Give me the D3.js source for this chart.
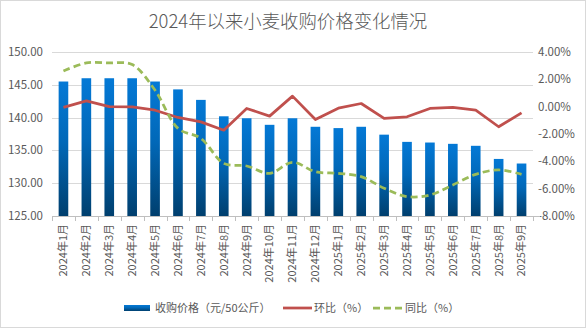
<!DOCTYPE html>
<html lang="zh">
<head>
<meta charset="utf-8">
<script src="https://d3js.org/d3.v7.min.js"></script>
<style>
  body { margin: 0; background: #fff; }
  text { font-family: "Noto Sans CJK SC", "Noto Sans", sans-serif; fill: #595959; }
</style>
</head>
<body>
<script>
    // categories and the three series
    var months = ["2024年1月", "2024年2月", "2024年3月", "2024年4月", "2024年5月", "2024年6月",
                  "2024年7月", "2024年8月", "2024年9月", "2024年10月", "2024年11月", "2024年12月",
                  "2025年1月", "2025年2月", "2025年3月", "2025年4月", "2025年5月", "2025年6月",
                  "2025年7月", "2025年8月", "2025年9月"];
    var price = [145.5, 146.0, 146.0, 146.0, 145.5, 144.3, 142.7, 140.2, 139.9, 138.9, 139.9,
                 138.6, 138.4, 138.6, 137.4, 136.3, 136.2, 136.0, 135.7, 133.7, 133.0];
    var mom = [-0.05, 0.42, 0.0, -0.02, -0.26, -0.79, -1.11, -1.72, -0.13, -0.69, 0.77,
               -0.94, -0.11, 0.23, -0.86, -0.74, -0.13, -0.06, -0.26, -1.47, -0.45];
    var yoy = [2.61, 3.2, 3.2, 3.08, 1.2, -1.59, -2.32, -4.15, -4.34, -4.88, -4.07,
               -4.76, -4.88, -5.12, -5.97, -6.58, -6.46, -5.73, -4.95, -4.63, -4.95];
    var leftTicks = [125, 130, 135, 140, 145, 150];
    var rightTicks = [-8, -6, -4, -2, 0, 2, 4];

    var width = 586, height = 328;
    // plot box (window.top is reserved, so these get a prefix)
    var plotL = 52, plotR = 533, plotT = 52, plotB = 216;

    var svg = d3.select("body").append("svg")
        .attr("width", width)
        .attr("height", height);

    // chart border
    svg.append("rect")
        .attr("x", 0.5).attr("y", 0.5)
        .attr("width", width - 1).attr("height", height - 1)
        .attr("fill", "#fff")
        .attr("stroke", "#d9d9d9");

    var grad = svg.append("defs").append("linearGradient")
        .attr("id", "barGrad")
        .attr("x1", 0).attr("y1", 0).attr("x2", 0).attr("y2", 1);
    grad.append("stop").attr("offset", "0%").attr("stop-color", "#0479d6");
    grad.append("stop").attr("offset", "45%").attr("stop-color", "#0168b8");
    grad.append("stop").attr("offset", "100%").attr("stop-color", "#003f6e");

    var x = d3.scaleBand().domain(months).range([plotL, plotR]);
    var yL = d3.scaleLinear().domain([125, 150]).range([plotB, plotT]);
    var yR = d3.scaleLinear().domain([-8, 4]).range([plotB, plotT]);

    // title
    svg.append("text")
        .attr("x", 288).attr("y", 28)
        .attr("text-anchor", "middle")
        .style("font-size", "18.4px")
        .style("font-weight", 300)
        .text("2024年以来小麦收购价格变化情况");

    // gridlines
    svg.append("g").selectAll("line")
        .data(leftTicks)
        .enter().append("line")
        .attr("x1", plotL).attr("x2", plotR)
        .attr("y1", function (d) { return Math.round(yL(d)) + 0.5; })
        .attr("y2", function (d) { return Math.round(yL(d)) + 0.5; })
        .attr("stroke", "#d9d9d9");

    // left axis labels
    svg.append("g").selectAll("text")
        .data(leftTicks)
        .enter().append("text")
        .attr("x", 43)
        .attr("y", function (d) { return yL(d); })
        .attr("dy", "0.35em")
        .attr("text-anchor", "end")
        .style("font-size", "11.5px")
        .text(function (d) { return d.toFixed(2); });

    // right axis labels
    svg.append("g").selectAll("text")
        .data(rightTicks)
        .enter().append("text")
        .attr("x", 538)
        .attr("y", function (d) { return yR(d); })
        .attr("dy", "0.35em")
        .style("font-size", "11.5px")
        .text(function (d) { return d.toFixed(2) + "%"; });

    // bars
    svg.append("g").selectAll("rect")
        .data(price)
        .enter().append("rect")
        .attr("x", function (d, i) { return x(months[i]) + x.bandwidth() * 0.29; })
        .attr("width", x.bandwidth() * 0.42)
        .attr("y", function (d) { return yL(d); })
        .attr("height", function (d) { return plotB - yL(d); })
        .attr("fill", "url(#barGrad)");

    // x axis line and ticks
    svg.append("line")
        .attr("x1", plotL).attr("x2", plotR + 7)
        .attr("y1", plotB + 0.5).attr("y2", plotB + 0.5)
        .attr("stroke", "#bfbfbf");
    svg.append("g").selectAll("line")
        .data(months.concat(["end"]))
        .enter().append("line")
        .attr("x1", function (d, i) { return Math.round(plotL + i * x.bandwidth()) + 0.5; })
        .attr("x2", function (d, i) { return Math.round(plotL + i * x.bandwidth()) + 0.5; })
        .attr("y1", plotB).attr("y2", plotB + 5)
        .attr("stroke", "#bfbfbf");

    // x labels, rotated
    svg.append("g").selectAll("text")
        .data(months)
        .enter().append("text")
        .attr("transform", function (d) {
            return "translate(" + (x(d) + x.bandwidth() / 2) + "," + (plotB + 8) + ") rotate(-90)";
        })
        .attr("dy", "0.35em")
        .attr("text-anchor", "end")
        .style("font-size", "11px")
        .text(function (d) { return d; });

    var cx = function (d, i) { return x(months[i]) + x.bandwidth() / 2; };

    var momLine = d3.line()
        .x(cx)
        .y(function (d) { return yR(d); });
    svg.append("path")
        .datum(mom)
        .attr("d", momLine)
        .attr("fill", "none")
        .attr("stroke", "#c0504d")
        .attr("stroke-width", 2.75)
        .attr("stroke-linejoin", "round");

    var yoyLine = d3.line()
        .x(cx)
        .y(function (d) { return yR(d); })
        .curve(d3.curveCatmullRom.alpha(0.5));
    svg.append("path")
        .datum(yoy)
        .attr("d", yoyLine)
        .attr("fill", "none")
        .attr("stroke", "#9bbb59")
        .attr("stroke-width", 2.75)
        .attr("stroke-dasharray", "7,4");

    // legend
    var lg = svg.append("g");
    lg.append("rect")
        .attr("x", 124).attr("y", 305).attr("width", 26).attr("height", 6)
        .attr("fill", "url(#barGrad)");
    lg.append("text").attr("x", 155).attr("y", 308).attr("dy", "0.35em")
        .style("font-size", "11px").text("收购价格（元/50公斤）");
    lg.append("line")
        .attr("x1", 283).attr("x2", 312).attr("y1", 308).attr("y2", 308)
        .attr("stroke", "#c0504d").attr("stroke-width", 2.75);
    lg.append("text").attr("x", 314).attr("y", 308).attr("dy", "0.35em")
        .style("font-size", "11px").text("环比（%）");
    lg.append("line")
        .attr("x1", 373).attr("x2", 402).attr("y1", 308).attr("y2", 308)
        .attr("stroke", "#9bbb59").attr("stroke-width", 2.75)
        .attr("stroke-dasharray", "7,4");
    lg.append("text").attr("x", 405).attr("y", 308).attr("dy", "0.35em")
        .style("font-size", "11px").text("同比（%）");
</script>
</body>
</html>
